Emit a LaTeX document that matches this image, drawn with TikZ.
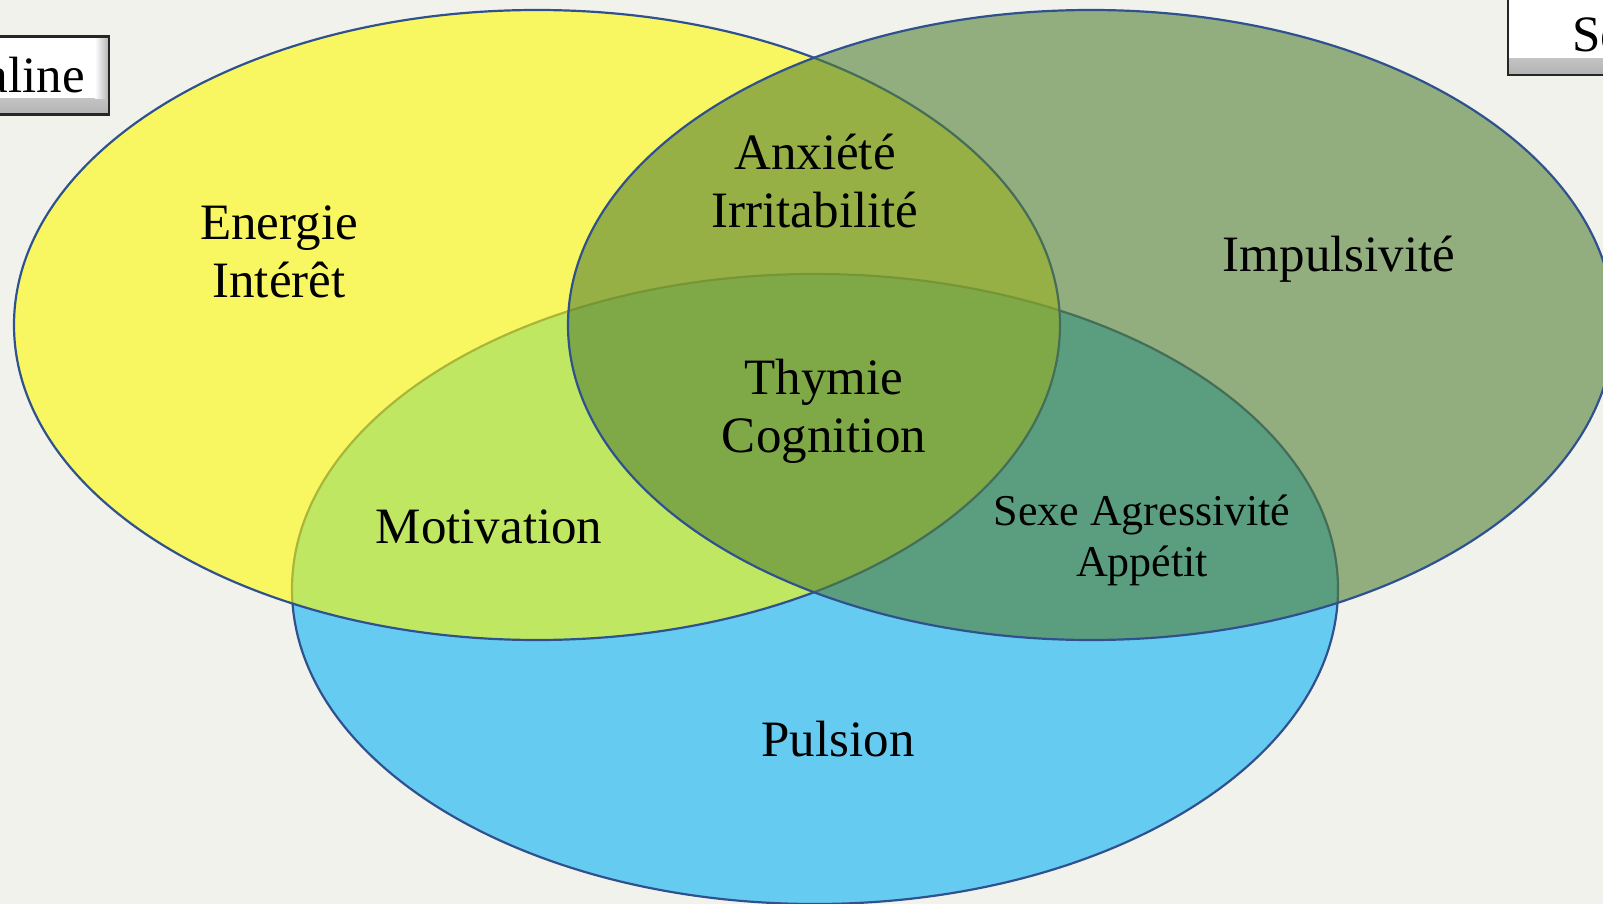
\documentclass[tikz,border=0pt]{standalone}
\usepackage{fontspec}
\setmainfont{Liberation Serif}
\usetikzlibrary{shapes.geometric}

\definecolor{bg}{RGB}{242,242,237}
\definecolor{edge}{RGB}{47,82,143}
\definecolor{yel}{RGB}{255,252,0}
\definecolor{grn}{RGB}{84,129,52}
\definecolor{blu}{RGB}{102,203,240}

\begin{document}
\begin{tikzpicture}[x=1pt,y=-1pt,
  setshape/.style={ellipse, draw=edge, line width=2.2pt, inner sep=0pt,
    minimum width=1046pt, minimum height=630pt},
  lbl/.style={font=\fontsize{51}{58}\selectfont, align=center, inner sep=0pt},
  lblsmall/.style={font=\fontsize{44}{51}\selectfont, align=center, inner sep=0pt},
  tag/.style={draw=black!85, line width=2.4pt, fill=white,
    font=\fontsize{51}{58}\selectfont, inner ysep=0pt,
    path picture={
      \shade[top color=white, bottom color=black!30]
        (path picture bounding box.south west) rectangle
        ([yshift=16pt]path picture bounding box.south east);
      \shade[left color=white, right color=black!30]
        ([xshift=-14pt]path picture bounding box.north east) rectangle
        ([yshift=16pt]path picture bounding box.south east);
    }}]

\useasboundingbox (0,0) rectangle (1603,904);
\fill[bg] (0,0) rectangle (1603,904);

\begin{scope}
  \clip (0,0) rectangle (1603,904);

  % the three sets, bottom to top
  \node[setshape, fill=blu] (pulsionset) at (815,589) {};
  \node[setshape, fill=yel, fill opacity=0.59] (energyset) at (537,325) {};
  \node[setshape, fill=grn, fill opacity=0.6] (impulseset) at (1091,325) {};

  % neurotransmitter tags
  \node[tag, anchor=east, minimum height=78pt, inner xsep=24pt] (nor) at (110,75.5) {Noradrénaline};
  \node[tag, anchor=west, minimum height=81pt, inner xsep=64pt] (ser) at (1507,34.5) {Sérotonine};
\end{scope}

% region labels
\node[lbl] (energie) at (279,252) {Energie\\Intérêt};
\node[lbl] (anxiete) at (815,181) {Anxiété\\Irritabilité};
\node[lbl] (impuls) at (1339,259) {Impulsivité};
\node[lbl] (thymie) at (824,411) {Thymie\\Cognition};
\node[lbl] (motiv) at (489,527) {Motivation};
\node[lblsmall] (sexe) at (1142,540) {Sexe Agressivité\\Appétit};
\node[lbl] (pulsion) at (838,739) {Pulsion};
\end{tikzpicture}
\end{document}
